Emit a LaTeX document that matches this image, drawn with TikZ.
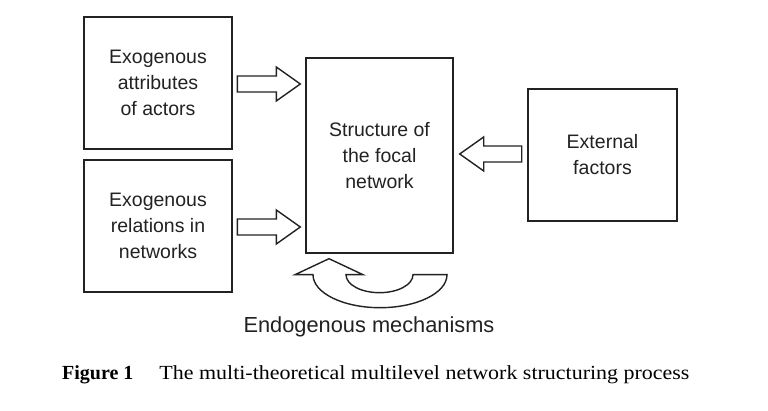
\documentclass[tikz,border=0pt]{standalone}
\usepackage{fontspec}
\setmainfont{Liberation Serif}
\newfontfamily\arialf{Liberation Sans}
\usetikzlibrary{calc}
\definecolor{ink}{HTML}{222222}
\begin{document}
\begin{tikzpicture}[x=1pt,y=1pt,
  box/.style={draw=ink, line width=1.4pt, inner sep=0pt, align=center,
    text=ink, font=\arialf\fontsize{19.5}{26}\selectfont},
  fat/.style={draw=ink, line width=1.4pt, fill=white, line join=miter}]
\useasboundingbox[fill=white] (0,0) rectangle (768,411);
\node[box, minimum width=148, minimum height=132] (b1) at (158,328) {Exogenous\\attributes\\of actors};
\node[box, minimum width=148, minimum height=132] (b2) at (158,185) {Exogenous\\relations in\\networks};
\node[box, minimum width=147, minimum height=195] (focal) at (379.5,255.5) {Structure of\\the focal\\network};
\node[box, minimum width=149, minimum height=132] (ext) at (602.5,256) {External\\factors};
% block arrows
\draw[fat, shift={($(focal.west |- b1.east)+(-5,-1)$)}]
  (0,0) -- (-24,17) -- (-24,8) -- (-63,8) -- (-63,-8) -- (-24,-8) -- (-24,-17) -- cycle;
\draw[fat, shift={($(focal.west |- b2.east)+(-5,-1)$)}]
  (0,0) -- (-24,17) -- (-24,8) -- (-63,8) -- (-63,-8) -- (-24,-8) -- (-24,-17) -- cycle;
\draw[fat, shift={($(focal.east |- ext.west)+(6,1)$)}]
  (0,0) -- (24,17) -- (24,8) -- (62,8) -- (62,-8) -- (24,-8) -- (24,-17) -- cycle;
% curved arrow
\coordinate (c) at ($(focal.south)+(0,-21)$);
\draw[fat] ($(c)+(-50.5,16)$) -- ($(c)+(-16.5,0)$) -- ($(c)+(-33.5,0)$)
  arc[start angle=180, end angle=360, x radius=33.5, y radius=18]
  -- ($(c)+(67.5,0)$)
  arc[start angle=0, end angle=-180, x radius=67, y radius=33]
  -- ($(c)+(-84.5,0)$) -- cycle;
\node[text=ink, font=\arialf\fontsize{21.8}{26}\selectfont, anchor=base, inner sep=0pt]
  (endo) at (369,78) {Endogenous mechanisms};
\node[text=black, font=\fontsize{20}{24}\selectfont, anchor=base west, inner sep=0pt]
  (cap) at (62,31) {\textbf{Figure 1}\hspace{1.3em}\scalebox{1.098}[1]{The multi-theoretical multilevel network structuring process}};
\end{tikzpicture}
\end{document}
